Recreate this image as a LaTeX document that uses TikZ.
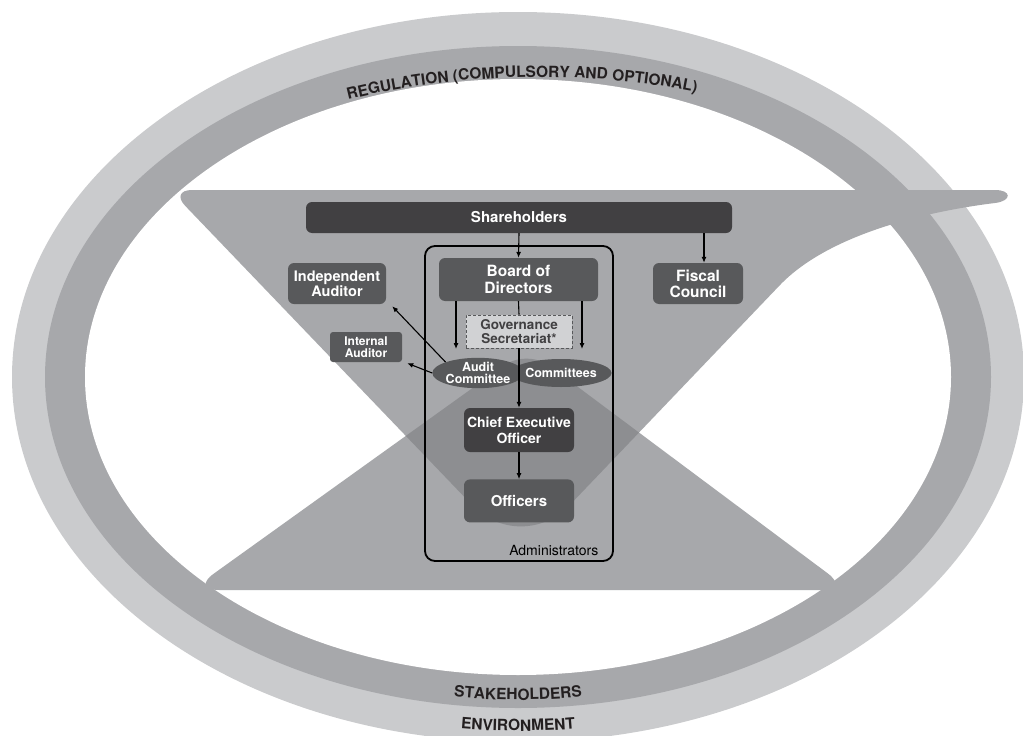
\documentclass[tikz,border=0pt]{standalone}
\usepackage{fontspec}
\setmainfont{TeX Gyre Heros}
\usetikzlibrary{shapes.geometric, arrows.meta, positioning, decorations.text}

\definecolor{envgrey}{HTML}{CACBCD}
\definecolor{stakegrey}{HTML}{A7A8AB}
\definecolor{overlapgrey}{HTML}{8D8E91}
\definecolor{boxgrey}{HTML}{58595B}
\definecolor{darkgrey}{HTML}{414042}
\definecolor{govgrey}{HTML}{D1D2D4}
\definecolor{textblack}{HTML}{231F20}

\newcommand{\upperfunnel}{[rounded corners=22pt] (170,-190) [sharp corners] -- (995,-190)
  .. controls (1012,-190) and (1012,-201) .. (995,-203)
  .. controls (930,-211) and (830,-233) .. (780,-285) [rounded corners=70pt] -- (521,-556) [rounded corners=22pt] -- cycle}
\newcommand{\lowerfunnel}{[rounded corners=28pt] (191,-590) -- (527,-349) -- (850,-590) -- cycle}

\begin{document}
\begin{tikzpicture}[x=1pt, y=1pt,
    box/.style={fill=boxgrey, text=white, rounded corners=6pt, inner sep=0pt, align=center,
      font=\bfseries\fontsize{14.5}{16}\selectfont},
    darkbox/.style={box, fill=darkgrey},
    comm/.style={ellipse, fill=boxgrey, text=white, inner sep=0pt, align=center,
      font=\bfseries\fontsize{12.5}{12}\selectfont},
    govbox/.style={fill=govgrey, draw=boxgrey, dash pattern=on 3pt off 2pt, line width=0.9pt,
      text=darkgrey, inner sep=0pt, align=center, font=\bfseries\fontsize{13.5}{13.5}\selectfont},
    arr/.style={-{Latex[length=6pt,width=5pt]}, line width=1.1pt},
    ringtext/.style={decorate, decoration={text along path, text align=center, text color=textblack, text={#1}}}
  ]
  \useasboundingbox (0,0) rectangle (1023,-736);

  \fill[envgrey] (518,-377) ellipse [x radius=506, y radius=365];
  \fill[stakegrey] (518,-377) ellipse [x radius=473, y radius=331];
  \fill[white] (518,-377) ellipse [x radius=433, y radius=298];

  \fill[stakegrey] \lowerfunnel;
  \fill[stakegrey] \upperfunnel;
  \begin{scope}
    \clip \upperfunnel;
    \fill[overlapgrey] \lowerfunnel;
  \end{scope}

  \path[ringtext={|\bfseries\fontsize{15.5}{15.5}\selectfont|REGULATION (COMPULSORY AND OPTIONAL)}]
    (540,-377) ++(135:500 and 300) arc[start angle=135, end angle=50, x radius=500, y radius=300];
  \path[ringtext={|\bfseries\fontsize{15.5}{15.5}\selectfont|STAKEHOLDERS}]
    (518,-377) ++(235:460 and 323) arc[start angle=235, end angle=305, x radius=460, y radius=323];
  \path[ringtext={|\bfseries\fontsize{15.5}{15.5}\selectfont|ENVIRONMENT}]
    (518,-377) ++(240:490 and 354) arc[start angle=240, end angle=300, x radius=490, y radius=354];

  \node[draw, line width=1.8pt, rounded corners=10pt, minimum width=188pt, minimum height=315pt] (admin) at (519,-403.5) {};
  \node[anchor=base east, font=\fontsize{14}{14}\selectfont] (admintext) at ([shift={(-12,6)}]admin.south east) {Administrators};

  \node[darkbox, minimum width=426pt, minimum height=31pt, font=\bfseries\fontsize{15}{16}\selectfont] (share) at (519,-217.5) {Shareholders};
  \node[box, minimum width=159pt, minimum height=43pt, font=\bfseries\fontsize{15.5}{16.5}\selectfont] (board) at (518.5,-279.5) {Board of\\Directors};
  \node[box, minimum width=98pt, minimum height=41pt, font=\bfseries\fontsize{14.5}{15}\selectfont] (indaud) at (337,-283.5) {Independent\\Auditor};
  \node[box, minimum width=90pt, minimum height=41pt, font=\bfseries\fontsize{15.5}{16}\selectfont] (fiscal) at (698,-283.5) {Fiscal\\Council};
  \node[box, minimum width=72pt, minimum height=30pt, rounded corners=3pt, font=\bfseries\fontsize{12}{12.5}\selectfont] (intaud) at (366,-347) {Internal\\Auditor};
  \node[govbox, minimum width=106pt, minimum height=33pt] (gov) at (519,-331.5) {Governance\\Secretariat*};
  \node[comm, minimum width=78pt, minimum height=30pt] (audit) at (478,-373) {Audit\\Committee};
  \node[comm, minimum width=78pt, minimum height=28pt] (comms) at (561,-373) {Committees};
  \node[darkbox, minimum width=110pt, minimum height=44pt, font=\bfseries\fontsize{14}{16}\selectfont] (ceo) at (519,-430) {Chief Executive\\Officer};
  \node[box, minimum width=110pt, minimum height=43pt, font=\bfseries\fontsize{15}{16}\selectfont, below=27pt of ceo] (officers) {Officers};

  \coordinate (auditin) at (456,-349);
  \coordinate (commin) at (582,-349);
  \draw[arr] (share.south) -- (board.north);
  \draw[arr] ([xshift=6pt]share.south -| fiscal.north) -- ([xshift=6pt]fiscal.north);
  \draw[arr] (board.south -| auditin) -- (auditin);
  \draw[arr] (board.south -| commin) -- (commin);
  \draw[line width=1.1pt] (board.south) -- (gov.north);
  \draw[arr] (gov.south) -- (ceo.north);
  \draw[arr] (ceo.south) -- (officers.north);
  \draw[arr] (audit.north west) -- ([shift={(6,-2)}]indaud.south east);
  \draw[arr] (audit.west) -- ([shift={(5,-1)}]intaud.south east);
\end{tikzpicture}
\end{document}
